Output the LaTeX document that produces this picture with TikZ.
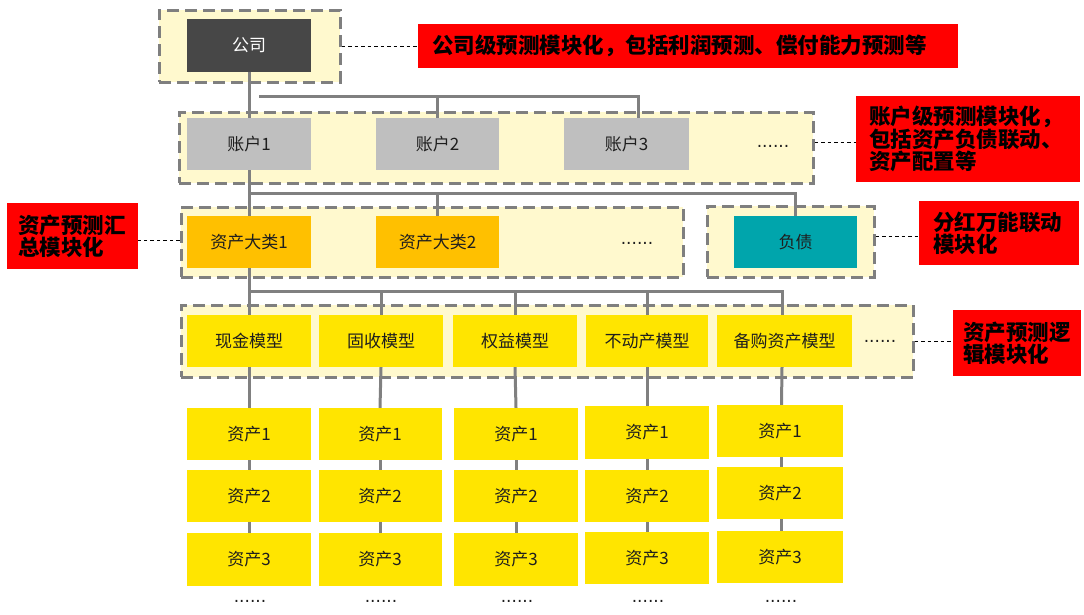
\documentclass[tikz,border=0pt]{standalone}
\usepackage{fontspec}
\setmainfont{Noto Sans CJK SC}
\newfontfamily\dotfont{DejaVu Sans}
\usetikzlibrary{calc}
\definecolor{outerfill}{HTML}{FFF9CE}
\definecolor{outerline}{HTML}{7F7F7F}
\definecolor{connc}{HTML}{808080}
\definecolor{cofill}{HTML}{474747}
\definecolor{acfill}{HTML}{BFBFBF}
\definecolor{clfill}{HTML}{FFC000}
\definecolor{lifill}{HTML}{00A5AC}
\definecolor{yefill}{HTML}{FFE500}
\definecolor{txt}{HTML}{1E1E1E}
\pgfdeclarelayer{back}
\pgfdeclarelayer{mid}
\pgfsetlayers{back,mid,main}
\tikzset{
  outerbox/.style={draw=outerline, fill=outerfill, line width=3pt, dash pattern=on 12pt off 6pt, inner sep=0pt},
  box/.style={inner sep=0pt, minimum height=52pt, text=txt, font=\fontsize{17}{18}\selectfont},
  conn/.style={draw=connc, line width=3pt},
  lbl/.style={fill=red, text=black, inner sep=0pt, align=left, font=\fontsize{21.5}{20}\selectfont\bfseries},
  lk/.style={draw=black, line width=1pt, dash pattern=on 3.5pt off 3pt},
  dots/.style={inner sep=0pt, text=txt, font=\fontsize{17}{18}\dotfont},
}
\begin{document}
\begin{tikzpicture}[x=1pt,y=-1pt]
\useasboundingbox (0,0) rectangle (1084,614);
% outer dashed groups
\begin{pgfonlayer}{back}
\node[outerbox, minimum width=181pt, minimum height=72pt] (g0) at (249.5,46) {};
\node[outerbox, minimum width=634pt, minimum height=71pt] (g1) at (496,147.5) {};
\node[outerbox, minimum width=502pt, minimum height=70pt] (g2) at (432,242) {};
\node[outerbox, minimum width=167pt, minimum height=71pt] (g3) at (790.5,241.5) {};
\node[outerbox, minimum width=732pt, minimum height=72pt] (g4) at (547,341) {};
\end{pgfonlayer}
% company
\node[box, fill=cofill, text=white, minimum width=124pt, minimum height=53pt] (co) at (249,45.5) {公司};
% accounts
\node[box, fill=acfill, minimum width=124pt] (z1) at (249,144) {账户1};
\node[box, fill=acfill, minimum width=123pt] (z2) at (437.5,144) {账户2};
\node[box, fill=acfill, minimum width=125pt] (z3) at (626.5,144) {账户3};
\node[dots] (zd) at (773,146) {......};
% asset classes and liability
\node[box, fill=clfill, minimum width=124pt] (c1) at (249,242) {资产大类1};
\node[box, fill=clfill, minimum width=123pt] (c2) at (437.5,242) {资产大类2};
\node[dots] (cd) at (637,243) {......};
\node[box, fill=lifill, minimum width=123pt] (l1) at (795.5,242) {负债};
% models
\node[box, fill=yefill, minimum width=124pt] (m1) at (249,341) {现金模型};
\node[box, fill=yefill, minimum width=124pt] (m2) at (381,341) {固收模型};
\node[box, fill=yefill, minimum width=124pt] (m3) at (515,341) {权益模型};
\node[box, fill=yefill, minimum width=122pt] (m4) at (647,341) {不动产模型};
\node[box, fill=yefill, minimum width=135pt] (m5) at (784.5,341) {备购资产模型};
\node[dots] (md) at (880,341) {......};
% assets
\node[box, fill=yefill, minimum width=124pt] (a11) at (249,434) {资产1};
\node[box, fill=yefill, minimum width=124pt] (a12) at (249,496) {资产2};
\node[box, fill=yefill, minimum width=124pt, minimum height=53pt] (a13) at (249,559.5) {资产3};
\node[dots] (ad1) at (250,601) {......};
\node[box, fill=yefill, minimum width=123pt] (a21) at (380,434) {资产1};
\node[box, fill=yefill, minimum width=123pt] (a22) at (380,496) {资产2};
\node[box, fill=yefill, minimum width=123pt, minimum height=53pt] (a23) at (380,559.5) {资产3};
\node[dots] (ad2) at (381,601) {......};
\node[box, fill=yefill, minimum width=124pt] (a31) at (516,434) {资产1};
\node[box, fill=yefill, minimum width=124pt] (a32) at (516,496) {资产2};
\node[box, fill=yefill, minimum width=124pt, minimum height=53pt] (a33) at (516,559.5) {资产3};
\node[dots] (ad3) at (517,601) {......};
\node[box, fill=yefill, minimum width=124pt, minimum height=53pt] (a41) at (647,432.5) {资产1};
\node[box, fill=yefill, minimum width=124pt] (a42) at (647,496) {资产2};
\node[box, fill=yefill, minimum width=124pt] (a43) at (647,558) {资产3};
\node[dots] (ad4) at (648,601) {......};
\node[box, fill=yefill, minimum width=126pt] (a51) at (780,431) {资产1};
\node[box, fill=yefill, minimum width=126pt] (a52) at (780,493) {资产2};
\node[box, fill=yefill, minimum width=126pt] (a53) at (780,557) {资产3};
\node[dots] (ad5) at (781,601) {......};
% red labels
\node[lbl, minimum width=540pt, minimum height=44pt, text width=512pt] (r1) at (688,46) {公司级预测模块化，包括利润预测、偿付能力预测等};
\node[lbl, minimum width=224pt, minimum height=86pt, text width=198pt] (r2) at (968,139) {账户级预测模块化，\\包括资产负债联动、\\资产配置等};
\node[lbl, minimum width=131pt, minimum height=66pt, text width=109pt] (r3) at (72.5,236) {资产预测汇\\总模块化};
\node[lbl, minimum width=160pt, minimum height=64pt, text width=132pt] (r4) at (999,233) {分红万能联动\\模块化};
\node[lbl, minimum width=128pt, minimum height=66pt, text width=108pt] (r5) at (1017,343) {资产预测逻\\辑模块化};
% connectors
\begin{pgfonlayer}{mid}
\draw[conn] (co.south) -- (z1.north);
\coordinate (b0) at (259,96);
\draw[conn] (b0) -| ([xshift=11.5pt]z3.north);
\draw[conn] (b0 -| z2.north) -- (z2.north);
\draw[conn] (z1.south) -- (c1.north);
\coordinate (b1) at ($(z1.south)!0.5!(c1.north)$);
\draw[conn] (b1) -| (l1.north);
\draw[conn] (b1 -| c2.north) -- (c2.north);
\draw[conn] (c1.south) -- (m1.north);
\coordinate (b2) at ($(c1.south)!0.5!(m1.north)$);
\draw[conn] (b2) -| ([xshift=-2.5pt]m5.north);
\foreach \m in {m2,m3,m4} { \draw[conn] (b2 -| \m.north) -- (\m.north); }
\foreach \c in {1,2,3,4} {
  \draw[conn] (m\c.south) -- (a\c1.north);
  \draw[conn] (a\c1.south) -- (a\c2.north);
  \draw[conn] (a\c2.south) -- (a\c3.north);
}
\draw[conn] ([xshift=-2.5pt]m5.south) -- ([xshift=1.5pt]a51.north);
\draw[conn] ([xshift=1.5pt]a51.south) -- ([xshift=1.5pt]a52.north);
\draw[conn] ([xshift=1.5pt]a52.south) -- ([xshift=1.5pt]a53.north);
\end{pgfonlayer}
% label links
\draw[lk] (g0.east) -- (g0.east -| r1.west);
\draw[lk] ([yshift=5.5pt]g1.east) -- ([yshift=5.5pt]g1.east -| r2.west);
\draw[lk] ([yshift=2pt]g2.west) -- ([yshift=2pt]g2.west -| r3.east);
\draw[lk] ([yshift=5.5pt]g3.east) -- ([yshift=5.5pt]g3.east -| r4.west);
\draw[lk] (g4.east) -- (g4.east -| r5.west);
\end{tikzpicture}
\end{document}
